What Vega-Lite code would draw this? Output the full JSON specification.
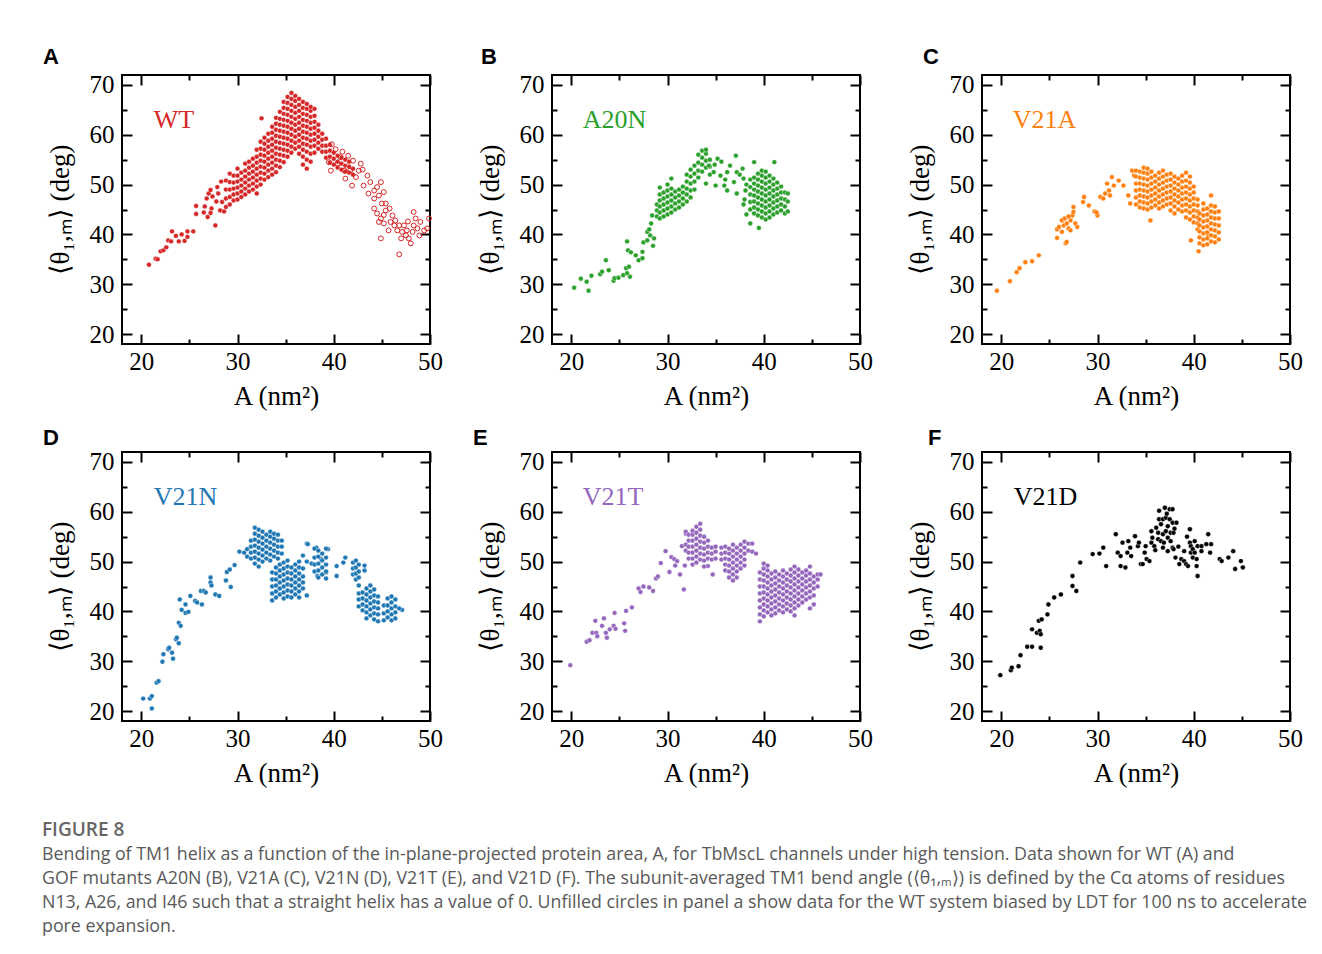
{
"$schema":"https://vega.github.io/schema/vega-lite/v6.json",
"background":"white",
"autosize":{"type":"pad"},
"padding":{"left":42,"top":44,"right":5,"bottom":10},
"config":{
"view":{"stroke":"black","strokeWidth":2},
"axis":{"grid":false,"domain":false,"tickColor":"black","tickWidth":2,"labelFont":"Liberation Serif","labelFontSize":25,"labelColor":"black","titleFont":"Liberation Serif","titleFontSize":27,"titleFontWeight":"normal","titleColor":"black","labelOverlap":false,"labelBound":false,"labelFlush":false},
"title":{"anchor":"start","frame":"group","font":"Liberation Sans","fontSize":22,"fontWeight":"bold","color":"black","baseline":"alphabetic"}
},
"title":{"text":"FIGURE 8","subtitle":["Bending of TM1 helix as a function of the in-plane-projected protein area, A, for TbMscL channels under high tension. Data shown for WT (A) and","GOF mutants A20N (B), V21A (C), V21N (D), V21T (E), and V21D (F). The subunit-averaged TM1 bend angle (⟨θ₁,ₘ⟩) is defined by the Cα atoms of residues","N13, A26, and I46 such that a straight helix has a value of 0. Unfilled circles in panel a show data for the WT system biased by LDT for 100 ns to accelerate","pore expansion."],"orient":"bottom","anchor":"start","frame":"bounds","baseline":"top","offset":34,"font":"Open Sans","fontSize":19,"fontWeight":600,"color":"#666666","subtitleFont":"Open Sans","subtitleFontSize":17.8,"subtitleColor":"#595959","subtitleLineHeight":24,"subtitlePadding":6},
"datasets":{
"wt":[
{"A":20.8,"theta":33.9},{"A":21.5,"theta":35.1},{"A":21.7,"theta":35.0},{"A":22.0,"theta":36.6},{"A":22.3,"theta":36.8},{"A":22.6,"theta":37.4},{"A":22.8,"theta":38.8},{"A":23.1,"theta":38.6},{"A":23.2,"theta":40.6},{"A":23.6,"theta":39.7},{"A":23.9,"theta":38.6},{"A":24.2,"theta":40.0},{"A":24.5,"theta":38.7},{"A":24.8,"theta":40.6},{"A":24.8,"theta":39.5},{"A":25.4,"theta":40.6},{"A":25.7,"theta":45.7},{"A":25.7,"theta":44.1},{"A":26.5,"theta":44.4},{"A":26.6,"theta":45.6},{"A":26.8,"theta":47.2},{"A":27.0,"theta":48.2},{"A":27.2,"theta":48.9},{"A":27.4,"theta":47.6},{"A":27.3,"theta":45.2},{"A":27.2,"theta":44.3},{"A":26.9,"theta":43.5},{"A":27.7,"theta":41.8},{"A":27.9,"theta":49.5},{"A":28.0,"theta":48.2},{"A":28.2,"theta":44.8},{"A":28.3,"theta":50.6},{"A":28.6,"theta":44.6},{"A":28.4,"theta":46.5},{"A":27.8,"theta":46.6},{"A":32.5,"theta":63.3},
{"A":28.8,"theta":45.5},{"A":28.8,"theta":47.2},{"A":28.8,"theta":49.0},{"A":28.8,"theta":50.8},
{"A":29.2,"theta":46.0},{"A":29.2,"theta":47.5},{"A":29.2,"theta":49.0},{"A":29.2,"theta":50.5},{"A":29.2,"theta":52.2},
{"A":29.6,"theta":46.8},{"A":29.6,"theta":48.0},{"A":29.6,"theta":49.2},{"A":29.6,"theta":50.4},{"A":29.6,"theta":51.8},
{"A":30.0,"theta":47.0},{"A":30.0,"theta":48.2},{"A":30.0,"theta":49.4},{"A":30.0,"theta":50.6},{"A":30.0,"theta":51.8},{"A":30.0,"theta":53.2},
{"A":30.4,"theta":47.5},{"A":30.4,"theta":48.6},{"A":30.4,"theta":49.8},{"A":30.4,"theta":51.0},{"A":30.4,"theta":52.4},
{"A":30.8,"theta":48.0},{"A":30.8,"theta":49.2},{"A":30.8,"theta":50.4},{"A":30.8,"theta":51.6},{"A":30.8,"theta":52.8},{"A":30.8,"theta":54.2},
{"A":31.2,"theta":48.6},{"A":31.2,"theta":49.8},{"A":31.2,"theta":51.0},{"A":31.2,"theta":52.2},{"A":31.2,"theta":53.4},{"A":31.2,"theta":54.6},
{"A":31.6,"theta":49.0},{"A":31.6,"theta":50.2},{"A":31.6,"theta":51.4},{"A":31.6,"theta":52.6},{"A":31.6,"theta":53.8},{"A":31.6,"theta":55.2},
{"A":32.0,"theta":48.2},{"A":32.0,"theta":49.6},{"A":32.0,"theta":50.8},{"A":32.0,"theta":52.0},{"A":32.0,"theta":53.2},{"A":32.0,"theta":54.4},{"A":32.0,"theta":55.6},{"A":32.0,"theta":57.0},
{"A":32.4,"theta":50.0},{"A":32.4,"theta":51.2},{"A":32.4,"theta":52.4},{"A":32.4,"theta":53.6},{"A":32.4,"theta":54.8},{"A":32.4,"theta":56.0},{"A":32.4,"theta":57.2},{"A":32.4,"theta":58.6},
{"A":32.8,"theta":51.0},{"A":32.8,"theta":52.2},{"A":32.8,"theta":53.4},{"A":32.8,"theta":54.6},{"A":32.8,"theta":55.8},{"A":32.8,"theta":57.0},{"A":32.8,"theta":58.2},{"A":32.8,"theta":59.4},
{"A":33.2,"theta":51.5},{"A":33.2,"theta":52.8},{"A":33.2,"theta":54.0},{"A":33.2,"theta":55.2},{"A":33.2,"theta":56.4},{"A":33.2,"theta":57.6},{"A":33.2,"theta":58.8},{"A":33.2,"theta":60.2},
{"A":33.6,"theta":52.0},{"A":33.6,"theta":53.2},{"A":33.6,"theta":54.4},{"A":33.6,"theta":55.6},{"A":33.6,"theta":56.8},{"A":33.6,"theta":58.0},{"A":33.6,"theta":59.2},{"A":33.6,"theta":60.4},{"A":33.6,"theta":61.6},
{"A":34.0,"theta":52.5},{"A":34.0,"theta":53.8},{"A":34.0,"theta":55.0},{"A":34.0,"theta":56.2},{"A":34.0,"theta":57.4},{"A":34.0,"theta":58.6},{"A":34.0,"theta":59.8},{"A":34.0,"theta":61.0},{"A":34.0,"theta":62.2},{"A":34.0,"theta":63.4},
{"A":34.4,"theta":53.5},{"A":34.4,"theta":54.8},{"A":34.4,"theta":56.0},{"A":34.4,"theta":57.2},{"A":34.4,"theta":58.4},{"A":34.4,"theta":59.6},{"A":34.4,"theta":60.8},{"A":34.4,"theta":62.0},{"A":34.4,"theta":63.2},{"A":34.4,"theta":64.6},
{"A":34.8,"theta":54.5},{"A":34.8,"theta":55.8},{"A":34.8,"theta":57.0},{"A":34.8,"theta":58.2},{"A":34.8,"theta":59.4},{"A":34.8,"theta":60.6},{"A":34.8,"theta":61.8},{"A":34.8,"theta":63.0},{"A":34.8,"theta":64.2},{"A":34.8,"theta":65.4},{"A":34.8,"theta":66.6},
{"A":35.2,"theta":55.6},{"A":35.2,"theta":56.8},{"A":35.2,"theta":58.0},{"A":35.2,"theta":59.2},{"A":35.2,"theta":60.4},{"A":35.2,"theta":61.6},{"A":35.2,"theta":62.8},{"A":35.2,"theta":64.0},{"A":35.2,"theta":65.2},{"A":35.2,"theta":66.4},{"A":35.2,"theta":67.6},
{"A":35.6,"theta":56.4},{"A":35.6,"theta":57.6},{"A":35.6,"theta":58.8},{"A":35.6,"theta":60.0},{"A":35.6,"theta":61.2},{"A":35.6,"theta":62.4},{"A":35.6,"theta":63.6},{"A":35.6,"theta":64.8},{"A":35.6,"theta":66.0},{"A":35.6,"theta":67.2},{"A":35.6,"theta":68.4},
{"A":36.0,"theta":57.2},{"A":36.0,"theta":58.4},{"A":36.0,"theta":59.6},{"A":36.0,"theta":60.8},{"A":36.0,"theta":62.0},{"A":36.0,"theta":63.2},{"A":36.0,"theta":64.4},{"A":36.0,"theta":65.6},{"A":36.0,"theta":66.8},{"A":36.0,"theta":67.8},
{"A":36.4,"theta":56.2},{"A":36.4,"theta":57.6},{"A":36.4,"theta":58.8},{"A":36.4,"theta":60.0},{"A":36.4,"theta":61.2},{"A":36.4,"theta":62.4},{"A":36.4,"theta":63.6},{"A":36.4,"theta":64.8},{"A":36.4,"theta":66.0},{"A":36.4,"theta":67.2},
{"A":36.8,"theta":54.0},{"A":36.8,"theta":55.6},{"A":36.8,"theta":57.0},{"A":36.8,"theta":58.2},{"A":36.8,"theta":59.4},{"A":36.8,"theta":60.6},{"A":36.8,"theta":61.8},{"A":36.8,"theta":63.0},{"A":36.8,"theta":64.2},{"A":36.8,"theta":65.4},{"A":36.8,"theta":66.6},
{"A":37.2,"theta":53.2},{"A":37.2,"theta":55.0},{"A":37.2,"theta":56.6},{"A":37.2,"theta":58.0},{"A":37.2,"theta":59.2},{"A":37.2,"theta":60.4},{"A":37.2,"theta":61.6},{"A":37.2,"theta":62.8},{"A":37.2,"theta":64.0},{"A":37.2,"theta":65.2},{"A":37.2,"theta":66.2},
{"A":37.6,"theta":54.6},{"A":37.6,"theta":56.2},{"A":37.6,"theta":57.6},{"A":37.6,"theta":58.8},{"A":37.6,"theta":60.0},{"A":37.6,"theta":61.2},{"A":37.6,"theta":62.4},{"A":37.6,"theta":63.6},{"A":37.6,"theta":64.8},{"A":37.6,"theta":65.6},
{"A":38.0,"theta":56.4},{"A":38.0,"theta":57.8},{"A":38.0,"theta":59.0},{"A":38.0,"theta":60.2},{"A":38.0,"theta":61.4},{"A":38.0,"theta":62.6},{"A":38.0,"theta":63.8},{"A":38.0,"theta":65.2},
{"A":38.4,"theta":57.2},{"A":38.4,"theta":58.4},{"A":38.4,"theta":59.6},{"A":38.4,"theta":60.8},{"A":38.4,"theta":62.0},
{"A":38.8,"theta":56.6},{"A":38.8,"theta":57.8},{"A":38.8,"theta":59.0},{"A":38.8,"theta":60.2},
{"A":39.2,"theta":55.4},{"A":39.2,"theta":56.6},{"A":39.2,"theta":57.8},{"A":39.2,"theta":59.2},
{"A":39.6,"theta":54.4},{"A":39.6,"theta":55.6},{"A":39.6,"theta":56.8},{"A":39.6,"theta":58.0},
{"A":40.0,"theta":54.0},{"A":40.0,"theta":55.2},{"A":40.0,"theta":56.4},
{"A":40.4,"theta":53.4},{"A":40.4,"theta":54.6},{"A":40.4,"theta":55.8},
{"A":40.8,"theta":53.0},{"A":40.8,"theta":54.2},{"A":40.8,"theta":55.4},
{"A":41.2,"theta":52.6},{"A":41.2,"theta":53.8},{"A":41.2,"theta":55.0},
{"A":41.6,"theta":52.4},{"A":41.6,"theta":53.6},{"A":41.6,"theta":54.6},
{"A":42.0,"theta":52.0},{"A":42.0,"theta":53.2},
{"A":39.8,"theta":58.1,"ldt":1},{"A":40.2,"theta":57.1,"ldt":1},{"A":40.7,"theta":55.5,"ldt":1},{"A":40.4,"theta":54.2,"ldt":1},{"A":39.5,"theta":54.5,"ldt":1},{"A":39.7,"theta":52.8,"ldt":1},{"A":41.1,"theta":52.8,"ldt":1},{"A":41.2,"theta":51.2,"ldt":1},{"A":41.7,"theta":52.8,"ldt":1},{"A":41.9,"theta":49.8,"ldt":1},{"A":42.3,"theta":51.5,"ldt":1},{"A":42.8,"theta":54.2,"ldt":1},{"A":42.6,"theta":52.8,"ldt":1},{"A":43.5,"theta":51.8,"ldt":1},{"A":43.1,"theta":49.8,"ldt":1},{"A":43.8,"theta":50.5,"ldt":1},{"A":44.2,"theta":48.8,"ldt":1},{"A":44.5,"theta":49.5,"ldt":1},{"A":44.9,"theta":50.5,"ldt":1},{"A":44.7,"theta":47.8,"ldt":1},{"A":44.2,"theta":47.2,"ldt":1},{"A":45.2,"theta":48.5,"ldt":1},{"A":45.0,"theta":46.2,"ldt":1},{"A":44.2,"theta":45.2,"ldt":1},{"A":44.5,"theta":44.2,"ldt":1},{"A":44.9,"theta":43.2,"ldt":1},{"A":45.2,"theta":43.9,"ldt":1},{"A":44.7,"theta":42.5,"ldt":1},{"A":45.2,"theta":42.2,"ldt":1},{"A":45.4,"theta":44.8,"ldt":1},{"A":45.4,"theta":46.2,"ldt":1},{"A":44.9,"theta":39.2,"ldt":1},{"A":45.7,"theta":40.8,"ldt":1},{"A":45.9,"theta":42.5,"ldt":1},{"A":46.1,"theta":43.8,"ldt":1},{"A":46.3,"theta":41.8,"ldt":1},{"A":46.4,"theta":42.8,"ldt":1},{"A":46.6,"theta":40.8,"ldt":1},{"A":46.8,"theta":41.8,"ldt":1},{"A":47.0,"theta":39.2,"ldt":1},{"A":46.8,"theta":36.0,"ldt":1},{"A":47.1,"theta":40.5,"ldt":1},{"A":47.3,"theta":41.8,"ldt":1},{"A":47.5,"theta":39.8,"ldt":1},{"A":47.6,"theta":40.8,"ldt":1},{"A":47.8,"theta":39.2,"ldt":1},{"A":48.0,"theta":38.2,"ldt":1},{"A":48.2,"theta":40.5,"ldt":1},{"A":48.3,"theta":41.8,"ldt":1},{"A":48.3,"theta":44.5,"ldt":1},{"A":48.5,"theta":43.2,"ldt":1},{"A":48.7,"theta":41.2,"ldt":1},{"A":48.9,"theta":39.8,"ldt":1},{"A":49.0,"theta":42.5,"ldt":1},{"A":49.4,"theta":40.8,"ldt":1},{"A":49.7,"theta":41.2,"ldt":1},{"A":49.9,"theta":43.2,"ldt":1},{"A":41.5,"theta":55.8,"ldt":1},{"A":40.9,"theta":56.6,"ldt":1},{"A":43.0,"theta":53.0,"ldt":1},{"A":42.0,"theta":54.8,"ldt":1},{"A":45.8,"theta":45.2,"ldt":1},{"A":47.7,"theta":42.6,"ldt":1},{"A":43.6,"theta":48.2,"ldt":1}
],
"a20n":[
{"A":20.3,"theta":29.3},{"A":21.0,"theta":31.1},{"A":21.6,"theta":30.5},{"A":21.8,"theta":28.7},{"A":22.1,"theta":31.7},{"A":23.0,"theta":32.0},{"A":23.2,"theta":32.5},{"A":23.6,"theta":34.8},{"A":23.9,"theta":32.8},{"A":24.4,"theta":30.7},{"A":24.5,"theta":31.2},{"A":24.9,"theta":31.3},{"A":25.4,"theta":31.8},{"A":25.7,"theta":33.2},{"A":25.8,"theta":38.6},{"A":25.9,"theta":36.8},{"A":26.0,"theta":33.5},{"A":26.1,"theta":31.5},{"A":25.8,"theta":32.2},{"A":26.2,"theta":36.4},{"A":26.7,"theta":35.8},{"A":27.0,"theta":34.8},{"A":27.4,"theta":35.2},{"A":27.4,"theta":36.5},{"A":27.5,"theta":38.4},{"A":27.9,"theta":38.8},{"A":27.9,"theta":40.5},{"A":28.2,"theta":39.8},{"A":28.3,"theta":42.2},{"A":28.5,"theta":37.7},{"A":28.4,"theta":43.8},{"A":28.6,"theta":39.2},{"A":28.1,"theta":41.0},
{"A":28.9,"theta":43.6},{"A":28.9,"theta":44.8},{"A":28.9,"theta":46.0},
{"A":29.2,"theta":43.2},{"A":29.2,"theta":44.4},{"A":29.2,"theta":45.6},{"A":29.2,"theta":46.8},{"A":29.2,"theta":48.0},{"A":29.2,"theta":49.4},
{"A":29.6,"theta":43.6},{"A":29.6,"theta":44.8},{"A":29.6,"theta":46.0},{"A":29.6,"theta":47.2},{"A":29.6,"theta":48.4},
{"A":30.0,"theta":44.0},{"A":30.0,"theta":45.2},{"A":30.0,"theta":46.4},{"A":30.0,"theta":47.6},{"A":30.0,"theta":48.8},{"A":30.0,"theta":50.0},
{"A":30.4,"theta":44.4},{"A":30.4,"theta":45.6},{"A":30.4,"theta":46.8},{"A":30.4,"theta":48.0},{"A":30.4,"theta":49.2},{"A":30.4,"theta":51.2},
{"A":30.8,"theta":45.0},{"A":30.8,"theta":46.2},{"A":30.8,"theta":47.4},{"A":30.8,"theta":48.6},
{"A":31.2,"theta":45.4},{"A":31.2,"theta":46.6},{"A":31.2,"theta":47.8},{"A":31.2,"theta":49.0},
{"A":31.6,"theta":46.0},{"A":31.6,"theta":47.2},{"A":31.6,"theta":48.4},{"A":31.6,"theta":49.6},
{"A":32.0,"theta":46.6},{"A":32.0,"theta":48.0},{"A":32.0,"theta":49.2},{"A":32.0,"theta":50.6},{"A":32.0,"theta":52.0},
{"A":32.4,"theta":47.4},{"A":32.4,"theta":48.8},{"A":32.4,"theta":50.2},{"A":32.4,"theta":51.6},{"A":32.4,"theta":53.0},
{"A":32.8,"theta":49.0},{"A":32.8,"theta":50.6},{"A":32.8,"theta":52.2},{"A":32.8,"theta":53.8},
{"A":33.2,"theta":51.4},{"A":33.2,"theta":52.8},{"A":33.2,"theta":54.4},{"A":33.2,"theta":56.0},
{"A":33.6,"theta":52.6},{"A":33.6,"theta":54.0},{"A":33.6,"theta":55.4},{"A":33.6,"theta":56.8},
{"A":34.0,"theta":50.2},{"A":34.0,"theta":53.4},{"A":34.0,"theta":54.8},{"A":34.0,"theta":56.2},{"A":34.0,"theta":57.0},
{"A":34.4,"theta":52.0},{"A":34.4,"theta":53.6},{"A":34.4,"theta":55.0},
{"A":34.3,"theta":53.8},{"A":34.8,"theta":52.5},{"A":35.2,"theta":55.2},{"A":35.5,"theta":51.8},{"A":35.9,"theta":49.8},{"A":35.0,"theta":49.8},{"A":36.2,"theta":52.5},{"A":36.5,"theta":53.8},{"A":37.1,"theta":55.8},{"A":37.2,"theta":52.5},{"A":37.8,"theta":53.2},{"A":36.9,"theta":50.5},{"A":37.9,"theta":51.2},{"A":37.2,"theta":48.2},{"A":36.2,"theta":48.8},{"A":38.1,"theta":48.8},{"A":35.6,"theta":54.6},{"A":34.9,"theta":54.0},{"A":36.0,"theta":51.0},{"A":37.5,"theta":52.0},{"A":38.0,"theta":47.0},{"A":38.6,"theta":42.2},{"A":39.5,"theta":41.3},{"A":41.1,"theta":54.5},{"A":39.0,"theta":54.5},{"A":38.2,"theta":44.0},{"A":38.2,"theta":50.0},{"A":37.9,"theta":46.0},
{"A":38.6,"theta":45.0},{"A":38.6,"theta":46.5},{"A":38.6,"theta":48.0},{"A":38.6,"theta":49.5},{"A":38.6,"theta":51.0},
{"A":39.0,"theta":44.2},{"A":39.0,"theta":45.4},{"A":39.0,"theta":46.6},{"A":39.0,"theta":47.8},{"A":39.0,"theta":49.0},{"A":39.0,"theta":50.2},{"A":39.0,"theta":51.4},
{"A":39.4,"theta":43.8},{"A":39.4,"theta":45.0},{"A":39.4,"theta":46.2},{"A":39.4,"theta":47.4},{"A":39.4,"theta":48.6},{"A":39.4,"theta":49.8},{"A":39.4,"theta":51.0},{"A":39.4,"theta":52.2},
{"A":39.8,"theta":43.4},{"A":39.8,"theta":44.6},{"A":39.8,"theta":45.8},{"A":39.8,"theta":47.0},{"A":39.8,"theta":48.2},{"A":39.8,"theta":49.4},{"A":39.8,"theta":50.6},{"A":39.8,"theta":51.8},{"A":39.8,"theta":52.8},
{"A":40.2,"theta":43.0},{"A":40.2,"theta":44.2},{"A":40.2,"theta":45.4},{"A":40.2,"theta":46.6},{"A":40.2,"theta":47.8},{"A":40.2,"theta":49.0},{"A":40.2,"theta":50.2},{"A":40.2,"theta":51.4},{"A":40.2,"theta":52.6},
{"A":40.6,"theta":43.4},{"A":40.6,"theta":44.6},{"A":40.6,"theta":45.8},{"A":40.6,"theta":47.0},{"A":40.6,"theta":48.2},{"A":40.6,"theta":49.4},{"A":40.6,"theta":50.6},{"A":40.6,"theta":51.8},
{"A":41.0,"theta":44.0},{"A":41.0,"theta":45.2},{"A":41.0,"theta":46.4},{"A":41.0,"theta":47.6},{"A":41.0,"theta":48.8},{"A":41.0,"theta":50.0},{"A":41.0,"theta":51.2},
{"A":41.4,"theta":44.4},{"A":41.4,"theta":45.6},{"A":41.4,"theta":46.8},{"A":41.4,"theta":48.0},{"A":41.4,"theta":49.2},{"A":41.4,"theta":50.4},
{"A":41.8,"theta":44.8},{"A":41.8,"theta":46.0},{"A":41.8,"theta":47.2},{"A":41.8,"theta":48.4},{"A":41.8,"theta":49.6},
{"A":42.2,"theta":44.2},{"A":42.2,"theta":45.6},{"A":42.2,"theta":47.0},{"A":42.2,"theta":48.4},
{"A":42.5,"theta":44.6},{"A":42.5,"theta":46.6},{"A":42.5,"theta":48.2}
],
"v21a":[
{"A":19.55,"theta":28.7},{"A":20.9,"theta":30.6},{"A":21.6,"theta":32.4},{"A":21.9,"theta":33.2},{"A":22.5,"theta":34.4},{"A":23.2,"theta":34.6},{"A":23.9,"theta":35.8},{"A":25.8,"theta":39.3},{"A":25.8,"theta":41.0},{"A":26.0,"theta":41.5},{"A":26.3,"theta":42.8},{"A":26.5,"theta":41.8},{"A":26.8,"theta":42.2},{"A":27.0,"theta":41.2},{"A":27.2,"theta":42.8},{"A":27.4,"theta":43.8},{"A":27.5,"theta":44.5},{"A":27.7,"theta":42.2},{"A":27.9,"theta":41.5},{"A":26.7,"theta":38.2},{"A":26.8,"theta":38.5},{"A":26.3,"theta":40.5},{"A":27.2,"theta":40.8},{"A":27.5,"theta":45.5},{"A":26.6,"theta":43.2},{"A":27.0,"theta":43.6},{"A":28.6,"theta":47.5},{"A":28.5,"theta":46.5},{"A":29.1,"theta":45.8},{"A":29.7,"theta":44.6},{"A":30.0,"theta":43.8},{"A":29.9,"theta":44.4},{"A":30.3,"theta":47.5},{"A":30.6,"theta":47.2},{"A":30.8,"theta":48.2},{"A":31.0,"theta":50.2},{"A":31.2,"theta":48.8},{"A":31.3,"theta":47.8},{"A":31.5,"theta":51.5},{"A":31.7,"theta":49.8},{"A":32.2,"theta":50.8},{"A":32.7,"theta":49.8},{"A":33.2,"theta":47.8},{"A":33.4,"theta":46.2},{"A":33.6,"theta":52.8},{"A":33.8,"theta":51.8},{"A":35.5,"theta":42.8},{"A":39.7,"theta":38.8},{"A":40.5,"theta":36.6},{"A":41.5,"theta":39.8},
{"A":34.0,"theta":46.0},{"A":34.0,"theta":47.4},{"A":34.0,"theta":48.8},{"A":34.0,"theta":50.2},{"A":34.0,"theta":51.6},{"A":34.0,"theta":52.8},
{"A":34.4,"theta":45.4},{"A":34.4,"theta":46.6},{"A":34.4,"theta":47.8},{"A":34.4,"theta":49.0},{"A":34.4,"theta":50.2},{"A":34.4,"theta":51.4},{"A":34.4,"theta":52.6},
{"A":34.8,"theta":45.2},{"A":34.8,"theta":46.4},{"A":34.8,"theta":47.6},{"A":34.8,"theta":48.8},{"A":34.8,"theta":50.0},{"A":34.8,"theta":51.2},{"A":34.8,"theta":52.4},{"A":34.8,"theta":53.4},
{"A":35.2,"theta":45.0},{"A":35.2,"theta":46.2},{"A":35.2,"theta":47.4},{"A":35.2,"theta":48.6},{"A":35.2,"theta":49.8},{"A":35.2,"theta":51.0},{"A":35.2,"theta":52.2},{"A":35.2,"theta":53.2},
{"A":35.6,"theta":45.4},{"A":35.6,"theta":46.6},{"A":35.6,"theta":47.8},{"A":35.6,"theta":49.0},{"A":35.6,"theta":50.2},{"A":35.6,"theta":51.4},{"A":35.6,"theta":52.6},
{"A":36.0,"theta":45.8},{"A":36.0,"theta":47.0},{"A":36.0,"theta":48.2},{"A":36.0,"theta":49.4},{"A":36.0,"theta":50.6},{"A":36.0,"theta":51.8},
{"A":36.4,"theta":45.2},{"A":36.4,"theta":46.4},{"A":36.4,"theta":47.6},{"A":36.4,"theta":48.8},{"A":36.4,"theta":50.0},{"A":36.4,"theta":51.2},{"A":36.4,"theta":52.4},
{"A":36.8,"theta":45.6},{"A":36.8,"theta":46.8},{"A":36.8,"theta":48.0},{"A":36.8,"theta":49.2},{"A":36.8,"theta":50.4},{"A":36.8,"theta":51.6},{"A":36.8,"theta":52.8},
{"A":37.2,"theta":46.0},{"A":37.2,"theta":47.2},{"A":37.2,"theta":48.4},{"A":37.2,"theta":49.6},{"A":37.2,"theta":50.8},{"A":37.2,"theta":52.0},
{"A":37.6,"theta":44.8},{"A":37.6,"theta":46.2},{"A":37.6,"theta":47.4},{"A":37.6,"theta":48.6},{"A":37.6,"theta":49.8},{"A":37.6,"theta":51.0},{"A":37.6,"theta":52.2},
{"A":38.0,"theta":44.2},{"A":38.0,"theta":45.6},{"A":38.0,"theta":46.8},{"A":38.0,"theta":48.0},{"A":38.0,"theta":49.2},{"A":38.0,"theta":50.4},{"A":38.0,"theta":51.6},
{"A":38.4,"theta":45.0},{"A":38.4,"theta":46.4},{"A":38.4,"theta":47.6},{"A":38.4,"theta":48.8},{"A":38.4,"theta":50.0},{"A":38.4,"theta":51.2},
{"A":38.8,"theta":44.6},{"A":38.8,"theta":45.8},{"A":38.8,"theta":47.0},{"A":38.8,"theta":48.2},{"A":38.8,"theta":49.4},{"A":38.8,"theta":50.6},{"A":38.8,"theta":51.8},
{"A":39.2,"theta":43.4},{"A":39.2,"theta":44.8},{"A":39.2,"theta":46.0},{"A":39.2,"theta":47.2},{"A":39.2,"theta":48.4},{"A":39.2,"theta":49.6},{"A":39.2,"theta":50.8},{"A":39.2,"theta":52.4},
{"A":39.6,"theta":43.0},{"A":39.6,"theta":44.4},{"A":39.6,"theta":45.6},{"A":39.6,"theta":46.8},{"A":39.6,"theta":48.0},{"A":39.6,"theta":49.2},{"A":39.6,"theta":50.4},{"A":39.6,"theta":51.6},
{"A":40.0,"theta":42.4},{"A":40.0,"theta":43.6},{"A":40.0,"theta":44.8},{"A":40.0,"theta":46.0},{"A":40.0,"theta":47.2},{"A":40.0,"theta":48.4},{"A":40.0,"theta":49.6},
{"A":40.4,"theta":41.0},{"A":40.4,"theta":42.2},{"A":40.4,"theta":43.4},{"A":40.4,"theta":44.6},{"A":40.4,"theta":45.8},{"A":40.4,"theta":47.0},
{"A":40.6,"theta":38.2},{"A":40.6,"theta":39.4},{"A":40.6,"theta":40.6},{"A":40.6,"theta":41.8},{"A":40.6,"theta":43.0},{"A":40.6,"theta":44.2},
{"A":41.0,"theta":37.8},{"A":41.0,"theta":39.0},{"A":41.0,"theta":40.2},{"A":41.0,"theta":41.4},{"A":41.0,"theta":42.6},{"A":41.0,"theta":43.8},{"A":41.0,"theta":45.0},{"A":41.0,"theta":46.2},
{"A":41.4,"theta":38.0},{"A":41.4,"theta":39.2},{"A":41.4,"theta":40.4},{"A":41.4,"theta":41.6},{"A":41.4,"theta":42.8},{"A":41.4,"theta":44.0},{"A":41.4,"theta":45.2},
{"A":41.8,"theta":38.6},{"A":41.8,"theta":39.8},{"A":41.8,"theta":41.0},{"A":41.8,"theta":42.2},{"A":41.8,"theta":43.4},{"A":41.8,"theta":44.6},{"A":41.8,"theta":45.8},{"A":41.8,"theta":47.8},
{"A":42.2,"theta":38.4},{"A":42.2,"theta":39.6},{"A":42.2,"theta":40.8},{"A":42.2,"theta":42.0},{"A":42.2,"theta":43.2},{"A":42.2,"theta":44.4},{"A":42.2,"theta":45.6},
{"A":42.6,"theta":39.0},{"A":42.6,"theta":40.4},{"A":42.6,"theta":41.8},{"A":42.6,"theta":43.2},{"A":42.6,"theta":44.6}
],
"v21n":[
{"A":20.2,"theta":22.5},{"A":20.9,"theta":22.5},{"A":21.1,"theta":23.0},{"A":21.1,"theta":20.5},{"A":21.6,"theta":25.7},{"A":21.8,"theta":26.0},{"A":22.2,"theta":29.9},{"A":22.3,"theta":31.4},{"A":22.8,"theta":32.4},{"A":22.9,"theta":32.7},{"A":23.2,"theta":31.7},{"A":23.3,"theta":30.5},{"A":23.6,"theta":34.4},{"A":23.7,"theta":34.7},{"A":23.9,"theta":33.6},{"A":23.9,"theta":37.7},{"A":24.1,"theta":37.1},{"A":24.0,"theta":42.4},{"A":24.2,"theta":40.3},{"A":24.6,"theta":41.4},{"A":24.6,"theta":39.7},{"A":24.9,"theta":39.9},{"A":25.1,"theta":43.1},{"A":25.6,"theta":42.1},{"A":25.8,"theta":41.8},{"A":26.2,"theta":44.1},{"A":26.3,"theta":41.4},{"A":26.5,"theta":44.1},{"A":26.7,"theta":43.8},{"A":27.2,"theta":45.8},{"A":27.2,"theta":46.8},{"A":27.3,"theta":45.2},{"A":27.7,"theta":43.4},{"A":28.1,"theta":43.1},{"A":28.8,"theta":46.2},{"A":28.9,"theta":47.9},{"A":29.3,"theta":44.9},{"A":29.2,"theta":48.4},{"A":29.7,"theta":49.3},{"A":30.2,"theta":52.0},{"A":30.7,"theta":51.8},{"A":31.0,"theta":52.5},
{"A":31.0,"theta":51.0},{"A":31.4,"theta":50.6},{"A":31.4,"theta":51.8},{"A":31.4,"theta":53.0},{"A":31.4,"theta":54.2},
{"A":31.8,"theta":49.6},{"A":31.8,"theta":50.8},{"A":31.8,"theta":52.0},{"A":31.8,"theta":53.2},{"A":31.8,"theta":54.4},{"A":31.8,"theta":55.6},{"A":31.8,"theta":56.8},
{"A":32.2,"theta":49.0},{"A":32.2,"theta":50.4},{"A":32.2,"theta":51.6},{"A":32.2,"theta":52.8},{"A":32.2,"theta":54.0},{"A":32.2,"theta":55.2},{"A":32.2,"theta":56.4},
{"A":32.6,"theta":50.0},{"A":32.6,"theta":51.2},{"A":32.6,"theta":52.4},{"A":32.6,"theta":53.6},{"A":32.6,"theta":54.8},{"A":32.6,"theta":56.0},
{"A":33.0,"theta":50.6},{"A":33.0,"theta":51.8},{"A":33.0,"theta":53.0},{"A":33.0,"theta":54.2},{"A":33.0,"theta":55.4},
{"A":33.4,"theta":50.2},{"A":33.4,"theta":51.4},{"A":33.4,"theta":52.6},{"A":33.4,"theta":53.8},{"A":33.4,"theta":55.0},{"A":33.4,"theta":56.0},
{"A":33.8,"theta":51.0},{"A":33.8,"theta":52.2},{"A":33.8,"theta":53.4},{"A":33.8,"theta":54.6},{"A":33.8,"theta":55.6},
{"A":34.2,"theta":50.6},{"A":34.2,"theta":51.8},{"A":34.2,"theta":53.0},{"A":34.2,"theta":54.2},{"A":34.2,"theta":55.4},
{"A":34.6,"theta":51.6},{"A":34.6,"theta":53.0},{"A":34.6,"theta":54.2},
{"A":33.6,"theta":42.2},{"A":33.6,"theta":43.6},{"A":33.6,"theta":45.0},{"A":33.6,"theta":46.4},{"A":33.6,"theta":47.8},
{"A":34.0,"theta":42.8},{"A":34.0,"theta":44.0},{"A":34.0,"theta":45.2},{"A":34.0,"theta":46.4},{"A":34.0,"theta":47.6},{"A":34.0,"theta":48.8},
{"A":34.4,"theta":43.4},{"A":34.4,"theta":44.6},{"A":34.4,"theta":45.8},{"A":34.4,"theta":47.0},{"A":34.4,"theta":48.2},{"A":34.4,"theta":49.4},
{"A":34.8,"theta":42.6},{"A":34.8,"theta":43.8},{"A":34.8,"theta":45.0},{"A":34.8,"theta":46.2},{"A":34.8,"theta":47.4},{"A":34.8,"theta":48.6},{"A":34.8,"theta":49.8},
{"A":35.2,"theta":43.0},{"A":35.2,"theta":44.2},{"A":35.2,"theta":45.4},{"A":35.2,"theta":46.6},{"A":35.2,"theta":47.8},{"A":35.2,"theta":49.0},{"A":35.2,"theta":50.2},
{"A":35.6,"theta":42.8},{"A":35.6,"theta":44.0},{"A":35.6,"theta":45.2},{"A":35.6,"theta":46.4},{"A":35.6,"theta":47.6},{"A":35.6,"theta":48.8},
{"A":36.0,"theta":43.4},{"A":36.0,"theta":44.6},{"A":36.0,"theta":45.8},{"A":36.0,"theta":47.0},{"A":36.0,"theta":48.2},{"A":36.0,"theta":49.4},
{"A":36.4,"theta":42.8},{"A":36.4,"theta":44.0},{"A":36.4,"theta":45.2},{"A":36.4,"theta":46.4},{"A":36.4,"theta":47.6},{"A":36.4,"theta":48.8},{"A":36.4,"theta":50.0},
{"A":36.8,"theta":44.6},{"A":36.8,"theta":45.8},{"A":36.8,"theta":47.0},{"A":36.8,"theta":48.6},{"A":36.8,"theta":51.2},
{"A":37.2,"theta":43.2},{"A":37.2,"theta":50.0},{"A":37.2,"theta":53.6},
{"A":37.3,"theta":53.5},{"A":38.2,"theta":52.8},{"A":38.7,"theta":50.5},{"A":39.4,"theta":52.5},{"A":39.2,"theta":47.8},{"A":38.3,"theta":47.1},{"A":40.3,"theta":49.1},{"A":41.0,"theta":49.8},{"A":41.2,"theta":50.8},{"A":40.3,"theta":47.1},{"A":37.7,"theta":49.6},
{"A":38.0,"theta":48.0},{"A":38.0,"theta":49.4},{"A":38.0,"theta":50.8},{"A":38.0,"theta":52.6},
{"A":38.4,"theta":46.8},{"A":38.4,"theta":48.2},{"A":38.4,"theta":49.6},{"A":38.4,"theta":51.0},{"A":38.4,"theta":52.2},
{"A":38.8,"theta":47.4},{"A":38.8,"theta":48.8},{"A":38.8,"theta":50.2},{"A":38.8,"theta":51.6},
{"A":39.2,"theta":46.6},{"A":39.2,"theta":48.0},{"A":39.2,"theta":49.4},{"A":39.2,"theta":50.8},{"A":39.2,"theta":52.6},
{"A":42.0,"theta":47.4},{"A":42.0,"theta":48.6},{"A":42.0,"theta":49.8},
{"A":42.3,"theta":46.4},{"A":42.3,"theta":47.6},{"A":42.3,"theta":48.8},{"A":42.3,"theta":50.2},
{"A":42.6,"theta":45.2},{"A":42.6,"theta":46.8},{"A":42.6,"theta":48.0},{"A":42.6,"theta":49.4},
{"A":43.2,"theta":48.2},{"A":43.2,"theta":49.2},
{"A":42.6,"theta":41.0},{"A":42.6,"theta":42.4},{"A":42.6,"theta":43.6},
{"A":43.0,"theta":40.2},{"A":43.0,"theta":41.4},{"A":43.0,"theta":42.6},{"A":43.0,"theta":43.8},
{"A":43.4,"theta":38.6},{"A":43.4,"theta":39.8},{"A":43.4,"theta":41.0},{"A":43.4,"theta":42.2},{"A":43.4,"theta":43.4},{"A":43.4,"theta":44.6},
{"A":43.8,"theta":39.2},{"A":43.8,"theta":40.4},{"A":43.8,"theta":41.6},{"A":43.8,"theta":42.8},{"A":43.8,"theta":44.0},{"A":43.8,"theta":45.2},
{"A":44.2,"theta":38.4},{"A":44.2,"theta":39.6},{"A":44.2,"theta":40.8},{"A":44.2,"theta":42.0},{"A":44.2,"theta":43.2},{"A":44.2,"theta":44.4},
{"A":44.6,"theta":38.0},{"A":44.6,"theta":39.4},{"A":44.6,"theta":40.6},{"A":44.6,"theta":41.8},{"A":44.6,"theta":43.0},
{"A":45.2,"theta":38.2},{"A":45.2,"theta":39.6},{"A":45.2,"theta":41.2},
{"A":45.6,"theta":38.8},{"A":45.6,"theta":40.0},{"A":45.6,"theta":41.2},{"A":45.6,"theta":42.6},
{"A":46.0,"theta":38.2},{"A":46.0,"theta":39.4},{"A":46.0,"theta":40.6},{"A":46.0,"theta":41.8},{"A":46.0,"theta":43.0},
{"A":46.4,"theta":38.6},{"A":46.4,"theta":39.8},{"A":46.4,"theta":41.0},{"A":46.4,"theta":42.4},
{"A":47.1,"theta":40.3},{"A":46.8,"theta":40.6}
],
"v21t":[
{"A":19.9,"theta":29.2},{"A":21.6,"theta":33.9},{"A":21.9,"theta":34.2},{"A":22.2,"theta":35.7},{"A":22.5,"theta":38.1},{"A":22.6,"theta":35.7},{"A":22.7,"theta":35.0},{"A":23.2,"theta":37.1},{"A":23.4,"theta":38.6},{"A":23.6,"theta":35.7},{"A":23.7,"theta":34.7},{"A":24.0,"theta":36.4},{"A":24.4,"theta":37.1},{"A":24.5,"theta":39.7},{"A":24.6,"theta":36.5},{"A":25.5,"theta":37.6},{"A":25.6,"theta":36.1},{"A":25.7,"theta":40.1},{"A":26.3,"theta":40.8},{"A":27.0,"theta":44.6},{"A":27.2,"theta":43.9},{"A":27.5,"theta":45.0},{"A":28.1,"theta":44.8},{"A":28.5,"theta":44.1},{"A":28.8,"theta":46.6},{"A":29.0,"theta":47.0},{"A":29.3,"theta":49.7},{"A":29.8,"theta":52.1},{"A":30.2,"theta":47.9},{"A":30.4,"theta":50.9},{"A":30.7,"theta":50.5},{"A":30.8,"theta":49.2},{"A":31.0,"theta":50.1},{"A":31.3,"theta":47.4},{"A":31.5,"theta":53.1},{"A":31.7,"theta":44.4},{"A":31.8,"theta":49.2},{"A":34.7,"theta":47.4},{"A":34.2,"theta":49.1},
{"A":31.9,"theta":52.2},{"A":31.9,"theta":53.4},{"A":31.9,"theta":55.6},{"A":31.9,"theta":56.0},
{"A":32.2,"theta":50.6},{"A":32.2,"theta":51.8},{"A":32.2,"theta":53.0},{"A":32.2,"theta":54.2},{"A":32.2,"theta":55.4},
{"A":32.6,"theta":49.4},{"A":32.6,"theta":50.6},{"A":32.6,"theta":51.8},{"A":32.6,"theta":53.0},{"A":32.6,"theta":54.2},{"A":32.6,"theta":55.4},{"A":32.6,"theta":56.2},
{"A":33.0,"theta":49.8},{"A":33.0,"theta":51.0},{"A":33.0,"theta":52.2},{"A":33.0,"theta":53.4},{"A":33.0,"theta":54.6},{"A":33.0,"theta":55.8},{"A":33.0,"theta":57.0},
{"A":33.4,"theta":50.4},{"A":33.4,"theta":51.6},{"A":33.4,"theta":52.8},{"A":33.4,"theta":54.0},{"A":33.4,"theta":55.2},{"A":33.4,"theta":56.4},{"A":33.4,"theta":57.6},
{"A":33.8,"theta":49.0},{"A":33.8,"theta":50.2},{"A":33.8,"theta":51.4},{"A":33.8,"theta":52.6},{"A":33.8,"theta":53.8},{"A":33.8,"theta":55.0},
{"A":34.2,"theta":50.6},{"A":34.2,"theta":51.8},{"A":34.2,"theta":53.0},{"A":34.2,"theta":54.2},
{"A":34.6,"theta":50.4},{"A":34.6,"theta":51.6},{"A":34.6,"theta":52.8},
{"A":35.0,"theta":50.6},{"A":35.0,"theta":52.0},{"A":35.0,"theta":53.0},
{"A":35.6,"theta":50.4},{"A":35.6,"theta":51.6},{"A":35.6,"theta":52.8},
{"A":36.0,"theta":48.2},{"A":36.0,"theta":49.4},{"A":36.0,"theta":50.6},{"A":36.0,"theta":51.8},{"A":36.0,"theta":53.0},
{"A":36.4,"theta":46.8},{"A":36.4,"theta":48.0},{"A":36.4,"theta":49.2},{"A":36.4,"theta":50.4},{"A":36.4,"theta":51.6},{"A":36.4,"theta":52.6},
{"A":36.8,"theta":46.2},{"A":36.8,"theta":47.4},{"A":36.8,"theta":48.6},{"A":36.8,"theta":49.8},{"A":36.8,"theta":51.0},{"A":36.8,"theta":52.2},{"A":36.8,"theta":53.4},
{"A":37.2,"theta":46.8},{"A":37.2,"theta":48.0},{"A":37.2,"theta":49.2},{"A":37.2,"theta":50.4},{"A":37.2,"theta":51.6},{"A":37.2,"theta":52.8},
{"A":37.6,"theta":48.6},{"A":37.6,"theta":49.8},{"A":37.6,"theta":51.0},{"A":37.6,"theta":52.2},{"A":37.6,"theta":53.4},
{"A":38.0,"theta":49.2},{"A":38.0,"theta":50.4},{"A":38.0,"theta":51.6},{"A":38.0,"theta":52.8},{"A":38.0,"theta":54.0},
{"A":38.4,"theta":52.2},{"A":38.4,"theta":53.6},{"A":38.8,"theta":52.0},{"A":38.8,"theta":53.6},{"A":39.2,"theta":51.6},
{"A":39.6,"theta":38.0},{"A":39.6,"theta":39.4},{"A":39.6,"theta":40.8},{"A":39.6,"theta":42.2},{"A":39.6,"theta":43.6},{"A":39.6,"theta":45.0},{"A":39.6,"theta":46.4},{"A":39.6,"theta":47.8},
{"A":40.0,"theta":39.0},{"A":40.0,"theta":40.2},{"A":40.0,"theta":41.4},{"A":40.0,"theta":42.6},{"A":40.0,"theta":43.8},{"A":40.0,"theta":45.0},{"A":40.0,"theta":46.2},{"A":40.0,"theta":47.4},{"A":40.0,"theta":48.6},{"A":40.0,"theta":49.6},
{"A":40.4,"theta":39.8},{"A":40.4,"theta":41.0},{"A":40.4,"theta":42.2},{"A":40.4,"theta":43.4},{"A":40.4,"theta":44.6},{"A":40.4,"theta":45.8},{"A":40.4,"theta":47.0},{"A":40.4,"theta":48.2},{"A":40.4,"theta":49.2},
{"A":40.8,"theta":39.2},{"A":40.8,"theta":40.4},{"A":40.8,"theta":41.6},{"A":40.8,"theta":42.8},{"A":40.8,"theta":44.0},{"A":40.8,"theta":45.2},{"A":40.8,"theta":46.4},{"A":40.8,"theta":47.6},
{"A":41.2,"theta":39.6},{"A":41.2,"theta":40.8},{"A":41.2,"theta":42.0},{"A":41.2,"theta":43.2},{"A":41.2,"theta":44.4},{"A":41.2,"theta":45.6},{"A":41.2,"theta":46.8},{"A":41.2,"theta":48.0},
{"A":41.6,"theta":40.2},{"A":41.6,"theta":41.4},{"A":41.6,"theta":42.6},{"A":41.6,"theta":43.8},{"A":41.6,"theta":45.0},{"A":41.6,"theta":46.2},{"A":41.6,"theta":47.4},
{"A":42.0,"theta":39.8},{"A":42.0,"theta":41.0},{"A":42.0,"theta":42.2},{"A":42.0,"theta":43.4},{"A":42.0,"theta":44.6},{"A":42.0,"theta":45.8},{"A":42.0,"theta":47.0},{"A":42.0,"theta":48.2},
{"A":42.4,"theta":40.4},{"A":42.4,"theta":41.6},{"A":42.4,"theta":42.8},{"A":42.4,"theta":44.0},{"A":42.4,"theta":45.2},{"A":42.4,"theta":46.4},{"A":42.4,"theta":47.6},
{"A":42.8,"theta":40.0},{"A":42.8,"theta":41.2},{"A":42.8,"theta":42.4},{"A":42.8,"theta":43.6},{"A":42.8,"theta":44.8},{"A":42.8,"theta":46.0},{"A":42.8,"theta":47.2},{"A":42.8,"theta":48.4},
{"A":43.2,"theta":39.2},{"A":43.2,"theta":40.6},{"A":43.2,"theta":41.8},{"A":43.2,"theta":43.0},{"A":43.2,"theta":44.2},{"A":43.2,"theta":45.4},{"A":43.2,"theta":46.6},{"A":43.2,"theta":47.8},{"A":43.2,"theta":49.0},
{"A":43.6,"theta":41.2},{"A":43.6,"theta":42.4},{"A":43.6,"theta":43.6},{"A":43.6,"theta":44.8},{"A":43.6,"theta":46.0},{"A":43.6,"theta":47.2},{"A":43.6,"theta":48.4},
{"A":44.0,"theta":41.8},{"A":44.0,"theta":43.0},{"A":44.0,"theta":44.2},{"A":44.0,"theta":45.4},{"A":44.0,"theta":46.6},{"A":44.0,"theta":47.8},
{"A":44.4,"theta":42.4},{"A":44.4,"theta":43.6},{"A":44.4,"theta":44.8},{"A":44.4,"theta":46.0},{"A":44.4,"theta":47.2},{"A":44.4,"theta":48.2},
{"A":44.8,"theta":40.6},{"A":44.8,"theta":42.8},{"A":44.8,"theta":44.0},{"A":44.8,"theta":45.2},{"A":44.8,"theta":46.4},{"A":44.8,"theta":47.6},{"A":44.8,"theta":49.0},
{"A":45.2,"theta":41.4},{"A":45.2,"theta":43.2},{"A":45.2,"theta":44.6},{"A":45.2,"theta":45.8},{"A":45.2,"theta":47.0},
{"A":45.6,"theta":45.0},{"A":45.6,"theta":46.4},{"A":45.6,"theta":47.4},{"A":45.9,"theta":47.4}
],
"v21d":[
{"A":19.9,"theta":27.2},{"A":21.0,"theta":28.2},{"A":21.1,"theta":28.7},{"A":21.8,"theta":29.0},{"A":22.0,"theta":31.2},{"A":22.7,"theta":32.9},{"A":23.2,"theta":32.9},{"A":23.2,"theta":36.4},{"A":23.7,"theta":35.7},{"A":23.9,"theta":38.1},{"A":24.0,"theta":36.1},{"A":24.1,"theta":35.4},{"A":24.1,"theta":32.7},{"A":24.2,"theta":38.4},{"A":24.8,"theta":39.4},{"A":24.9,"theta":41.4},{"A":25.5,"theta":42.8},{"A":26.2,"theta":43.4},{"A":27.4,"theta":47.1},{"A":27.4,"theta":45.1},{"A":27.8,"theta":44.1},{"A":28.2,"theta":49.8},{"A":29.5,"theta":51.5},{"A":30.2,"theta":51.6},{"A":30.6,"theta":52.8},{"A":30.9,"theta":49.1},{"A":31.9,"theta":55.5},{"A":32.1,"theta":51.8},{"A":32.4,"theta":51.1},{"A":32.4,"theta":49.1},{"A":32.6,"theta":53.8},{"A":32.9,"theta":48.8},{"A":33.1,"theta":51.8},{"A":33.2,"theta":54.1},{"A":33.4,"theta":52.8},{"A":33.5,"theta":51.1},{"A":33.9,"theta":55.1},{"A":34.2,"theta":53.1},{"A":34.3,"theta":53.8},{"A":34.5,"theta":49.5},{"A":34.7,"theta":49.5},{"A":34.9,"theta":51.8},{"A":35.0,"theta":53.1},{"A":35.1,"theta":50.5},{"A":35.4,"theta":50.1},{"A":35.6,"theta":56.1},{"A":35.6,"theta":53.8},{"A":35.7,"theta":54.8},{"A":35.9,"theta":53.1},
{"A":36.4,"theta":60.2},{"A":37.0,"theta":60.8},{"A":37.5,"theta":60.5},{"A":37.8,"theta":60.5},{"A":36.4,"theta":58.5},{"A":36.8,"theta":58.5},{"A":37.1,"theta":58.8},{"A":37.5,"theta":58.5},{"A":36.6,"theta":57.5},{"A":37.3,"theta":57.1},{"A":37.8,"theta":57.8},{"A":38.2,"theta":57.8},{"A":36.3,"theta":55.8},{"A":36.8,"theta":55.5},{"A":37.1,"theta":56.1},{"A":37.6,"theta":55.8},{"A":37.9,"theta":55.8},{"A":36.3,"theta":54.5},{"A":36.6,"theta":54.1},{"A":36.9,"theta":53.8},{"A":37.3,"theta":54.8},{"A":37.6,"theta":54.1},{"A":36.8,"theta":52.8},{"A":37.3,"theta":52.1},{"A":37.8,"theta":52.8},{"A":37.9,"theta":52.5},{"A":38.1,"theta":50.8},{"A":38.5,"theta":49.5},{"A":38.7,"theta":50.5},{"A":39.0,"theta":52.1},{"A":39.0,"theta":50.1},{"A":39.2,"theta":49.5},{"A":39.4,"theta":49.1},{"A":39.6,"theta":56.5},{"A":39.6,"theta":53.8},{"A":39.7,"theta":53.1},{"A":39.7,"theta":51.8},{"A":39.9,"theta":52.5},{"A":39.9,"theta":50.8},{"A":40.1,"theta":54.1},{"A":40.1,"theta":51.8},{"A":40.3,"theta":50.5},{"A":40.3,"theta":49.1},{"A":40.4,"theta":53.1},{"A":40.4,"theta":47.1},{"A":40.8,"theta":52.1},{"A":40.8,"theta":53.1},{"A":41.3,"theta":53.5},{"A":41.5,"theta":55.5},{"A":41.7,"theta":51.8},{"A":41.8,"theta":53.5},{"A":42.7,"theta":50.5},{"A":42.9,"theta":50.1},{"A":43.6,"theta":50.8},{"A":44.1,"theta":52.1},{"A":44.3,"theta":48.5},{"A":44.9,"theta":50.1},{"A":45.1,"theta":48.8},{"A":36.1,"theta":56.8},{"A":37.2,"theta":59.6},{"A":38.0,"theta":56.6},{"A":36.0,"theta":52.3},{"A":38.4,"theta":53.0},{"A":39.3,"theta":55.0}
]
},
"columns":3,
"bounds":"flush",
"spacing":{"row":108,"column":122},
"concat":[
{"title":{"text":"A","dx":-79,"offset":4},"width":308,"height":269,
"layer":[
{"data":{"name":"wt"},"mark":{"type":"circle","size":24,"opacity":1},
"encoding":{
"x":{"field":"A","type":"quantitative","scale":{"domain":[18,50],"nice":false,"zero":false},"axis":{"orient":"bottom","values":[20,25,30,35,40,45,50],"tickSize":{"condition":{"test":"datum.value % 10 === 0","value":-10},"value":-5},"labelExpr":"datum.value % 10 === 0 ? datum.label : ''","labelPadding":15,"title":"A (nm²)","titlePadding":4}},
"y":{"field":"theta","type":"quantitative","scale":{"domain":[18,72],"nice":false,"zero":false},"axis":{"orient":"left","values":[20,25,30,35,40,45,50,55,60,65,70],"tickSize":{"condition":{"test":"datum.value % 10 === 0","value":-10},"value":-5},"labelExpr":"datum.value % 10 === 0 ? datum.label : ''","labelPadding":18,"title":"⟨θ₁,ₘ⟩ (deg)","titlePadding":15}},
"fill":{"condition":{"test":"datum.ldt","value":"transparent"},"value":"#d62728"},
"stroke":{"condition":{"test":"datum.ldt","value":"#d62728"},"value":"white"},
"strokeWidth":{"condition":{"test":"datum.ldt","value":1},"value":0.4}}},
{"data":{"values":[{"label":"WT"}]},"mark":{"type":"text","font":"Liberation Serif","fontSize":26,"align":"left","baseline":"alphabetic","color":"#d62728"},
"encoding":{
"x":{"datum":21.3,"type":"quantitative","scale":{"domain":[18,50],"nice":false,"zero":false},"axis":{"orient":"top","values":[20,25,30,35,40,45,50],"tickSize":{"condition":{"test":"datum.value % 10 === 0","value":-10},"value":-5},"labels":false,"title":null}},
"y":{"datum":61.4,"type":"quantitative","scale":{"domain":[18,72],"nice":false,"zero":false},"axis":{"orient":"right","values":[20,25,30,35,40,45,50,55,60,65,70],"tickSize":{"condition":{"test":"datum.value % 10 === 0","value":-10},"value":-5},"labels":false,"title":null}},
"text":{"field":"label"}}}
],
"resolve":{"axis":{"x":"independent","y":"independent"}}},
{"title":{"text":"B","dx":-71,"offset":4},"width":308,"height":269,
"layer":[
{"data":{"name":"a20n"},"mark":{"type":"circle","size":24,"opacity":1,"color":"#2ca02c","stroke":"white","strokeWidth":0.4},
"encoding":{
"x":{"field":"A","type":"quantitative","scale":{"domain":[18,50],"nice":false,"zero":false},"axis":{"orient":"bottom","values":[20,25,30,35,40,45,50],"tickSize":{"condition":{"test":"datum.value % 10 === 0","value":-10},"value":-5},"labelExpr":"datum.value % 10 === 0 ? datum.label : ''","labelPadding":15,"title":"A (nm²)","titlePadding":4}},
"y":{"field":"theta","type":"quantitative","scale":{"domain":[18,72],"nice":false,"zero":false},"axis":{"orient":"left","values":[20,25,30,35,40,45,50,55,60,65,70],"tickSize":{"condition":{"test":"datum.value % 10 === 0","value":-10},"value":-5},"labelExpr":"datum.value % 10 === 0 ? datum.label : ''","labelPadding":18,"title":"⟨θ₁,ₘ⟩ (deg)","titlePadding":15}}}},
{"data":{"values":[{"label":"A20N"}]},"mark":{"type":"text","font":"Liberation Serif","fontSize":26,"align":"left","baseline":"alphabetic","color":"#2ca02c"},
"encoding":{
"x":{"datum":21.2,"type":"quantitative","scale":{"domain":[18,50],"nice":false,"zero":false},"axis":{"orient":"top","values":[20,25,30,35,40,45,50],"tickSize":{"condition":{"test":"datum.value % 10 === 0","value":-10},"value":-5},"labels":false,"title":null}},
"y":{"datum":61.4,"type":"quantitative","scale":{"domain":[18,72],"nice":false,"zero":false},"axis":{"orient":"right","values":[20,25,30,35,40,45,50,55,60,65,70],"tickSize":{"condition":{"test":"datum.value % 10 === 0","value":-10},"value":-5},"labels":false,"title":null}},
"text":{"field":"label"}}}
],
"resolve":{"axis":{"x":"independent","y":"independent"}}},
{"title":{"text":"C","dx":-59,"offset":4},"width":308,"height":269,
"layer":[
{"data":{"name":"v21a"},"mark":{"type":"circle","size":24,"opacity":1,"color":"#ff7f0e","stroke":"white","strokeWidth":0.4},
"encoding":{
"x":{"field":"A","type":"quantitative","scale":{"domain":[18,50],"nice":false,"zero":false},"axis":{"orient":"bottom","values":[20,25,30,35,40,45,50],"tickSize":{"condition":{"test":"datum.value % 10 === 0","value":-10},"value":-5},"labelExpr":"datum.value % 10 === 0 ? datum.label : ''","labelPadding":15,"title":"A (nm²)","titlePadding":4}},
"y":{"field":"theta","type":"quantitative","scale":{"domain":[18,72],"nice":false,"zero":false},"axis":{"orient":"left","values":[20,25,30,35,40,45,50,55,60,65,70],"tickSize":{"condition":{"test":"datum.value % 10 === 0","value":-10},"value":-5},"labelExpr":"datum.value % 10 === 0 ? datum.label : ''","labelPadding":18,"title":"⟨θ₁,ₘ⟩ (deg)","titlePadding":15}}}},
{"data":{"values":[{"label":"V21A"}]},"mark":{"type":"text","font":"Liberation Serif","fontSize":26,"align":"left","baseline":"alphabetic","color":"#ff7f0e"},
"encoding":{
"x":{"datum":21.2,"type":"quantitative","scale":{"domain":[18,50],"nice":false,"zero":false},"axis":{"orient":"top","values":[20,25,30,35,40,45,50],"tickSize":{"condition":{"test":"datum.value % 10 === 0","value":-10},"value":-5},"labels":false,"title":null}},
"y":{"datum":61.4,"type":"quantitative","scale":{"domain":[18,72],"nice":false,"zero":false},"axis":{"orient":"right","values":[20,25,30,35,40,45,50,55,60,65,70],"tickSize":{"condition":{"test":"datum.value % 10 === 0","value":-10},"value":-5},"labels":false,"title":null}},
"text":{"field":"label"}}}
],
"resolve":{"axis":{"x":"independent","y":"independent"}}},
{"title":{"text":"D","dx":-79,"offset":0},"width":308,"height":269,
"layer":[
{"data":{"name":"v21n"},"mark":{"type":"circle","size":24,"opacity":1,"color":"#1f77b4","stroke":"white","strokeWidth":0.4},
"encoding":{
"x":{"field":"A","type":"quantitative","scale":{"domain":[18,50],"nice":false,"zero":false},"axis":{"orient":"bottom","values":[20,25,30,35,40,45,50],"tickSize":{"condition":{"test":"datum.value % 10 === 0","value":-10},"value":-5},"labelExpr":"datum.value % 10 === 0 ? datum.label : ''","labelPadding":15,"title":"A (nm²)","titlePadding":4}},
"y":{"field":"theta","type":"quantitative","scale":{"domain":[18,72],"nice":false,"zero":false},"axis":{"orient":"left","values":[20,25,30,35,40,45,50,55,60,65,70],"tickSize":{"condition":{"test":"datum.value % 10 === 0","value":-10},"value":-5},"labelExpr":"datum.value % 10 === 0 ? datum.label : ''","labelPadding":18,"title":"⟨θ₁,ₘ⟩ (deg)","titlePadding":15}}}},
{"data":{"values":[{"label":"V21N"}]},"mark":{"type":"text","font":"Liberation Serif","fontSize":26,"align":"left","baseline":"alphabetic","color":"#1f77b4"},
"encoding":{
"x":{"datum":21.3,"type":"quantitative","scale":{"domain":[18,50],"nice":false,"zero":false},"axis":{"orient":"top","values":[20,25,30,35,40,45,50],"tickSize":{"condition":{"test":"datum.value % 10 === 0","value":-10},"value":-5},"labels":false,"title":null}},
"y":{"datum":61.4,"type":"quantitative","scale":{"domain":[18,72],"nice":false,"zero":false},"axis":{"orient":"right","values":[20,25,30,35,40,45,50,55,60,65,70],"tickSize":{"condition":{"test":"datum.value % 10 === 0","value":-10},"value":-5},"labels":false,"title":null}},
"text":{"field":"label"}}}
],
"resolve":{"axis":{"x":"independent","y":"independent"}}},
{"title":{"text":"E","dx":-79,"offset":0},"width":308,"height":269,
"layer":[
{"data":{"name":"v21t"},"mark":{"type":"circle","size":24,"opacity":1,"color":"#9467bd","stroke":"white","strokeWidth":0.4},
"encoding":{
"x":{"field":"A","type":"quantitative","scale":{"domain":[18,50],"nice":false,"zero":false},"axis":{"orient":"bottom","values":[20,25,30,35,40,45,50],"tickSize":{"condition":{"test":"datum.value % 10 === 0","value":-10},"value":-5},"labelExpr":"datum.value % 10 === 0 ? datum.label : ''","labelPadding":15,"title":"A (nm²)","titlePadding":4}},
"y":{"field":"theta","type":"quantitative","scale":{"domain":[18,72],"nice":false,"zero":false},"axis":{"orient":"left","values":[20,25,30,35,40,45,50,55,60,65,70],"tickSize":{"condition":{"test":"datum.value % 10 === 0","value":-10},"value":-5},"labelExpr":"datum.value % 10 === 0 ? datum.label : ''","labelPadding":18,"title":"⟨θ₁,ₘ⟩ (deg)","titlePadding":15}}}},
{"data":{"values":[{"label":"V21T"}]},"mark":{"type":"text","font":"Liberation Serif","fontSize":26,"align":"left","baseline":"alphabetic","color":"#9467bd"},
"encoding":{
"x":{"datum":21.2,"type":"quantitative","scale":{"domain":[18,50],"nice":false,"zero":false},"axis":{"orient":"top","values":[20,25,30,35,40,45,50],"tickSize":{"condition":{"test":"datum.value % 10 === 0","value":-10},"value":-5},"labels":false,"title":null}},
"y":{"datum":61.4,"type":"quantitative","scale":{"domain":[18,72],"nice":false,"zero":false},"axis":{"orient":"right","values":[20,25,30,35,40,45,50,55,60,65,70],"tickSize":{"condition":{"test":"datum.value % 10 === 0","value":-10},"value":-5},"labels":false,"title":null}},
"text":{"field":"label"}}}
],
"resolve":{"axis":{"x":"independent","y":"independent"}}},
{"title":{"text":"F","dx":-54,"offset":0},"width":308,"height":269,
"layer":[
{"data":{"name":"v21d"},"mark":{"type":"circle","size":24,"opacity":1,"color":"black","stroke":"white","strokeWidth":0.4},
"encoding":{
"x":{"field":"A","type":"quantitative","scale":{"domain":[18,50],"nice":false,"zero":false},"axis":{"orient":"bottom","values":[20,25,30,35,40,45,50],"tickSize":{"condition":{"test":"datum.value % 10 === 0","value":-10},"value":-5},"labelExpr":"datum.value % 10 === 0 ? datum.label : ''","labelPadding":15,"title":"A (nm²)","titlePadding":4}},
"y":{"field":"theta","type":"quantitative","scale":{"domain":[18,72],"nice":false,"zero":false},"axis":{"orient":"left","values":[20,25,30,35,40,45,50,55,60,65,70],"tickSize":{"condition":{"test":"datum.value % 10 === 0","value":-10},"value":-5},"labelExpr":"datum.value % 10 === 0 ? datum.label : ''","labelPadding":18,"title":"⟨θ₁,ₘ⟩ (deg)","titlePadding":15}}}},
{"data":{"values":[{"label":"V21D"}]},"mark":{"type":"text","font":"Liberation Serif","fontSize":26,"align":"left","baseline":"alphabetic","color":"black"},
"encoding":{
"x":{"datum":21.3,"type":"quantitative","scale":{"domain":[18,50],"nice":false,"zero":false},"axis":{"orient":"top","values":[20,25,30,35,40,45,50],"tickSize":{"condition":{"test":"datum.value % 10 === 0","value":-10},"value":-5},"labels":false,"title":null}},
"y":{"datum":61.4,"type":"quantitative","scale":{"domain":[18,72],"nice":false,"zero":false},"axis":{"orient":"right","values":[20,25,30,35,40,45,50,55,60,65,70],"tickSize":{"condition":{"test":"datum.value % 10 === 0","value":-10},"value":-5},"labels":false,"title":null}},
"text":{"field":"label"}}}
],
"resolve":{"axis":{"x":"independent","y":"independent"}}}
]
}
